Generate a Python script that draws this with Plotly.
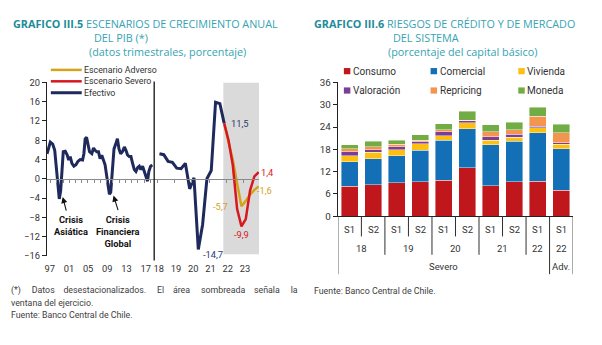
import plotly.graph_objects as go

W, H = 602, 345
FONT = "Roboto"
TFONT = "Open Sans"
TXT = "#333333"

# ---------------- GRAFICO III.5 data ----------------
# Efectivo 1997-2017 (decimal position on the compressed axis, annual growth %)
hist_t = [1996.44, 1997.12, 1997.62, 1998.04, 1998.51, 1998.72, 1998.99, 1999.28, 1999.55, 1999.82,
          2000.24, 2000.65, 2000.94, 2001.27, 2001.63, 2002.04, 2002.46, 2002.87, 2003.35, 2003.85,
          2004.12, 2004.39, 2004.68, 2004.95, 2005.30, 2005.78, 2006.13, 2006.46, 2006.81, 2007.17,
          2007.50, 2007.85, 2008.20, 2008.54, 2008.89, 2009.24, 2009.45, 2009.72, 2010.07, 2010.40,
          2010.76, 2011.11, 2011.44, 2011.79, 2012.21, 2012.56, 2012.89, 2013.24, 2013.60, 2013.93,
          2014.28, 2014.63, 2014.97, 2015.32, 2015.67, 2016.00, 2016.36, 2016.71, 2017.04, 2017.39,
          2017.66, 2018.02, 2018.37]
hist_v = [5.2, 7.6, 7.2, 5.9, 0.9, -1.8, -4.2, -2.5, 2.9, 5.6,
          5.7, 4.9, 3.9, 4.6, 3.2, 2.6, 2.9, 3.6, 4.0, 3.9,
          5.2, 8.3, 8.6, 6.9, 5.6, 5.2, 6.4, 5.9, 5.6, 5.6,
          4.2, 4.9, 3.9, 2.9, 0.5, -2.1, -3.2, -2.8, 1.5, 6.2,
          7.2, 8.3, 6.2, 5.2, 5.7, 6.6, 5.9, 4.9, 4.6, 4.6,
          3.2, 1.9, 1.5, 2.3, 2.6, 1.9, 2.6, 1.5, 0.2, -0.5,
          1.5, 2.6, 2.9]

# Efectivo 2018T1-2021T4
efectivo_q = ["2018T1", "2018T2", "2018T3", "2018T4", "2019T1", "2019T2", "2019T3", "2019T4",
              "2020T1", "2020T2", "2020T3", "2020T4", "2021T1", "2021T2", "2021T3", "2021T4"]
efectivo = [5.2, 5.0, 3.6, 3.4, 2.2, 2.1, 3.2, -2.1, 0.2, -14.7, -9.5, 0.0, 1.7, 15.9, 15.6, 11.5]

# Escenarios 2021T4-2023T4
escenario_q = ["2021T4", "2022T1", "2022T2", "2022T3", "2022T4", "2023T1", "2023T2", "2023T3", "2023T4"]
severo = [11.5, 8.0, 2.8, -6.3, -9.9, -8.4, -2.4, 0.5, 1.4]
adverso = [11.5, 8.0, 3.9, -1.0, -5.7, -4.6, -3.3, -2.3, -1.6]

hist_years = [1997, 2001, 2005, 2009, 2013, 2017]
hist_labels = ["97", "01", "05", "09", "13", "17"]
rec_years = [2018, 2019, 2020, 2021, 2022, 2023]
rec_labels = ["18", "19", "20", "21", "22", "23"]
y_ticks = [-16, -12, -8, -4, 0, 4, 8, 12, 16, 20]

# ---------------- GRAFICO III.6 data ----------------
periodos = ["S1", "S2", "S1", "S2", "S1", "S2", "S1", "S2", "S1", "S1"]
anios = ["18", "18", "19", "19", "20", "20", "21", "21", "22", "22"]
escenarios = ["Severo"] * 9 + ["Adv."]
consumo = [8.1, 8.4, 9.0, 9.3, 9.7, 13.0, 8.2, 9.2, 9.4, 7.0]
comercial = [6.6, 7.1, 7.2, 8.4, 10.7, 10.5, 11.0, 10.9, 13.1, 11.1]
vivienda = [1.5, 1.7, 1.7, 1.8, 1.3, 1.6, 1.2, 1.2, 1.3, 1.3]
valoracion = [1.1, 0.7, 0.8, 0.5, 1.0, 0.6, 1.0, 0.7, 0.4, 0.3]
repricing = [0.9, 0.8, 0.7, 0.5, 0.5, 0.1, 1.3, 1.3, 2.7, 2.8]
moneda = [1.0, 1.4, 1.0, 1.4, 1.7, 2.4, 1.9, 2.0, 2.4, 2.3]
bar_series = [("Consumo", consumo, "#C0171D"), ("Comercial", comercial, "#1370B6"),
              ("Vivienda", vivienda, "#FDBF12"), ("Valoración", valoracion, "#7A3E97"),
              ("Repricing", repricing, "#F3954F"), ("Moneda", moneda, "#71AC45")]
bar_ticks = [0, 6, 12, 18, 24, 30, 36]

NAVY, RED, GOLD = "#1F2A5C", "#D7181E", "#D4A21B"


def qmid(label):
    y, q = label.split("T")
    return int(y) + (int(q) - 0.5) / 4


def fx(p):
    return p / W


def fy(p):
    return 1 - p / H


def fmt(v):
    return f"{v:.1f}".replace(".", ",")


# geometry in pixels
L_TOP, L_BOT = 79, 258
L_X0, L_XM, L_X1 = 45, 152.7, 258
R_TOP, R_BOT = 79, 217
R_X0, R_X1 = 337, 573
R1 = [1996.40, 2018.78]
R2 = [2017.82, 2023.9]
YR = [-16, 20]
zero_pos = fy(L_BOT) + (0 - YR[0]) / (YR[1] - YR[0]) * (fy(L_TOP) - fy(L_BOT))

fig = go.Figure()

# left chart lines
fig.add_trace(go.Scatter(x=hist_t, y=hist_v, xaxis="x", yaxis="y", mode="lines",
                         line=dict(color=NAVY, width=3), name="Efectivo"))
fig.add_trace(go.Scatter(x=[qmid(q) for q in efectivo_q], y=efectivo, xaxis="x2", yaxis="y",
                         mode="lines", line=dict(color=NAVY, width=3), name="Efectivo"))
esc_t = [qmid(q) for q in escenario_q]
fig.add_trace(go.Scatter(x=esc_t, y=adverso, xaxis="x2", yaxis="y", mode="lines",
                         line=dict(color=GOLD, width=2.5), name="Escenario Adverso"))
fig.add_trace(go.Scatter(x=esc_t, y=severo, xaxis="x2", yaxis="y", mode="lines",
                         line=dict(color=RED, width=2.5), name="Escenario Severo"))
# dummy traces for label axes
for xa in ("x3", "x4"):
    fig.add_trace(go.Scatter(x=[None], y=[None], xaxis=xa, yaxis="y", hoverinfo="skip"))

# right chart bars
idx = list(range(len(periodos)))
for name, vals, col in bar_series:
    fig.add_trace(go.Bar(x=idx, y=vals, name=name, xaxis="x5", yaxis="y2",
                         marker=dict(color=col, line=dict(color="rgba(255,255,255,0.7)", width=0.6))))

shapes = []
ann = []

# shaded window
shapes.append(dict(type="rect", xref="x2", yref="y", x0=qmid("2021T4") - 0.05, x1=R2[1],
                   y0=YR[0] + 0.3, y1=YR[1], fillcolor="#DADADA", line=dict(width=0), layer="below"))
# separator between the two time spans
shapes.append(dict(type="line", xref="paper", yref="paper", x0=fx(L_XM), x1=fx(L_XM),
                   y0=fy(263), y1=fy(78), line=dict(color="#111111", width=1.3)))

# left legend
leg_left = [("Escenario Adverso", GOLD, 2.5), ("Escenario Severo", RED, 2.5), ("Efectivo", NAVY, 3)]
for i, (name, col, w) in enumerate(leg_left):
    yy = 66 + i * 11.8
    shapes.append(dict(type="line", xref="paper", yref="paper", x0=fx(49), x1=fx(80),
                       y0=fy(yy), y1=fy(yy), line=dict(color=col, width=w)))
    ann.append(dict(xref="paper", yref="paper", x=fx(80.5), y=fy(yy), xanchor="left", yanchor="middle",
                    text=name, showarrow=False, font=dict(size=8.8, color=TXT, family=FONT)))

# right legend
for i, (name, vals, col) in enumerate(bar_series):
    cx = [343, 430, 518][i % 3]
    cy = [67.3, 87.3][i // 3]
    shapes.append(dict(type="rect", xref="paper", yref="paper", x0=fx(cx), x1=fx(cx + 6.5),
                       y0=fy(cy + 3.2), y1=fy(cy - 3.2), fillcolor=col, line=dict(width=0)))
    ann.append(dict(xref="paper", yref="paper", x=fx(cx + 7.2), y=fy(cy), xanchor="left",
                    yanchor="middle", text=name, showarrow=False,
                    font=dict(size=10, color=TXT, family=FONT)))

# value labels
lab_font = dict(size=9.3, family=FONT)
t_last = qmid(efectivo_q[-1])
ann.append(dict(xref="x2", yref="y", x=t_last, y=efectivo[-1], text=fmt(efectivo[-1]), showarrow=False,
                xanchor="left", yanchor="middle", xshift=5, font=dict(color="#2E3B6B", **lab_font)))
imin = efectivo.index(min(efectivo))
ann.append(dict(xref="x2", yref="y", x=qmid(efectivo_q[imin]), y=efectivo[imin], text=fmt(efectivo[imin]),
                showarrow=False, xanchor="left", yanchor="middle", xshift=3, yshift=-5,
                font=dict(color="#2E3B6B", **lab_font)))
ia = adverso.index(min(adverso))
ann.append(dict(xref="x2", yref="y", x=esc_t[ia], y=adverso[ia], text=fmt(adverso[ia]), showarrow=False,
                xanchor="right", yanchor="middle", xshift=-11, font=dict(color=GOLD, **lab_font)))
isv = severo.index(min(severo))
ann.append(dict(xref="x2", yref="y", x=esc_t[isv], y=severo[isv], text=fmt(severo[isv]), showarrow=False,
                xanchor="center", yanchor="top", yshift=-1, font=dict(color=RED, **lab_font)))
ann.append(dict(xref="x2", yref="y", x=esc_t[-1], y=severo[-1], text=fmt(severo[-1]), showarrow=False,
                xanchor="left", yanchor="middle", xshift=0, font=dict(color=RED, **lab_font)))
ann.append(dict(xref="x2", yref="y", x=esc_t[-1], y=adverso[-1], text=fmt(adverso[-1]), showarrow=False,
                xanchor="left", yanchor="middle", xshift=-4, yshift=-4, font=dict(color=GOLD, **lab_font)))

# crisis annotations (text position, arrow tip, arrow tail offset in px)
crisis = [("Crisis<br>Asiática", 2001.5, 1999.7, -3.8, 4, 15),
          ("Crisis<br>Financiera<br>Global", 2011.3, 2010.3, -3.5, 5, 16)]
for text, tx, ax_t, ay_v, dx, dy in crisis:
    ann.append(dict(xref="x", yref="y", x=tx, y=-7.0, text=f"<b>{text}</b>", showarrow=False,
                    xanchor="center", yanchor="top", font=dict(size=9.3, color="#111111", family=FONT)))
    ann.append(dict(xref="x", yref="y", x=ax_t, y=ay_v, text="", showarrow=True, ax=dx, ay=dy,
                    arrowhead=2, arrowsize=1.1, arrowwidth=1.1, arrowcolor="#111111"))

# right chart category labels and dividers
n = len(periodos)
ROW1, ROW2, ROW3 = 231, 250, 269
for i in range(n):
    ann.append(dict(xref="x5", yref="paper", x=i, y=fy(ROW1), text=periodos[i], showarrow=False,
                    xanchor="center", yanchor="middle", font=dict(size=9.5, color=TXT, family=FONT)))


def groups(keys):
    out = []
    start = 0
    for i in range(1, len(keys) + 1):
        if i == len(keys) or keys[i] != keys[start]:
            out.append((start, i - 1, keys[start]))
            start = i
    return out


for s, e, k in groups(list(zip(escenarios, anios))):
    ann.append(dict(xref="x5", yref="paper", x=(s + e) / 2, y=fy(ROW2), text=k[1], showarrow=False,
                    xanchor="center", yanchor="middle", font=dict(size=9.5, color=TXT, family=FONT)))
for s, e, k in groups(escenarios):
    ann.append(dict(xref="x5", yref="paper", x=(s + e) / 2, y=fy(ROW3), text=k, showarrow=False,
                    xanchor="center", yanchor="middle", font=dict(size=9.5, color=TXT, family=FONT)))

div_col = "#303030"
for b in range(-1, n):
    xb = b + 0.5
    if b == -1 or b == n - 1 or escenarios[b] != escenarios[b + 1]:
        ybot = 277
    elif anios[b] != anios[b + 1]:
        ybot = 257
    else:
        ybot = 238
    shapes.append(dict(type="line", xref="x5", yref="paper", x0=xb, x1=xb, y0=fy(R_BOT), y1=fy(ybot),
                       line=dict(color=div_col, width=1)))

# titles
TEAL_B, TEAL = "#1E8B99", "#35A3B3"
tfont = dict(size=10.8, family=TFONT, color=TEAL)
ann += [
    dict(xref="paper", yref="paper", x=fx(9), y=fy(18), xanchor="left", yanchor="middle", showarrow=False,
         text=f"<b><span style='color:{TEAL_B}'>GRAFICO III.5</span></b> ESCENARIOS DE CRECIMIENTO ANUAL",
         font=tfont),
    dict(xref="paper", yref="paper", x=fx(90), y=fy(33), xanchor="left", yanchor="middle", showarrow=False,
         text="DEL PIB (*)", font=tfont),
    dict(xref="paper", yref="paper", x=fx(85), y=fy(47.5), xanchor="left", yanchor="middle", showarrow=False,
         text="(datos trimestrales, porcentaje)", font=tfont),
    dict(xref="paper", yref="paper", x=fx(311), y=fy(18), xanchor="left", yanchor="middle", showarrow=False,
         text=f"<b><span style='color:{TEAL_B}'>GRAFICO III.6</span></b> RIESGOS DE CRÉDITO Y DE MERCADO",
         font=tfont),
    dict(xref="paper", yref="paper", x=fx(390), y=fy(33), xanchor="left", yanchor="middle", showarrow=False,
         text="DEL SISTEMA", font=tfont),
    dict(xref="paper", yref="paper", x=fx(385), y=fy(47.5), xanchor="left", yanchor="middle", showarrow=False,
         text="(porcentaje del capital básico)", font=tfont),
]

# footnotes
nfont = dict(size=8.8, family=FONT, color="#404040")
words1 = ["(*)", "Datos", "desestacionalizados.", "El", "área", "sombreada", "señala", "la"]
line1 = words1[0]
for k, w in enumerate(words1[1:]):
    line1 += " " + "\u00a0" * (4 if k % 2 == 0 else 3) + w
notes = [(7, 294, line1),
         (7, 306.5, "ventana del ejercicio."),
         (7, 319, "Fuente: Banco Central de Chile."),
         (311, 294, "Fuente: Banco Central de Chile.")]
for x0, y0, t in notes:
    ann.append(dict(xref="paper", yref="paper", x=fx(x0), y=fy(y0), xanchor="left", yanchor="middle",
                    showarrow=False, text=t, font=nfont))

tickfont = dict(size=9.3, color=TXT, family=FONT)
fig.update_layout(
    width=W, height=H, margin=dict(l=0, r=0, t=0, b=0),
    paper_bgcolor="white", plot_bgcolor="rgba(0,0,0,0)",
    showlegend=False, barmode="stack", bargap=0.28,
    font=dict(family=FONT, size=9.3, color=TXT),
    xaxis=dict(domain=[fx(L_X0), fx(L_XM)], range=R1, anchor="free", position=zero_pos,
               showline=True, linecolor="#8A8A8A", linewidth=1.2, ticks="outside", ticklen=3,
               tickcolor="#8A8A8A", tick0=1997.17, dtick=1.3, showticklabels=False,
               showgrid=False, zeroline=False, fixedrange=True),
    xaxis2=dict(domain=[fx(L_XM), fx(L_X1)], range=R2, anchor="free", position=zero_pos,
                showline=True, linecolor="#8A8A8A", linewidth=1.2, ticks="outside", ticklen=3,
                tickcolor="#8A8A8A", tickvals=rec_years, showticklabels=False,
                showgrid=False, zeroline=False, fixedrange=True),
    xaxis3=dict(overlaying="x", domain=[fx(L_X0), fx(L_XM)], range=R1, anchor="y",
                tickvals=hist_years, ticktext=hist_labels, ticks="outside", ticklen=4,
                tickcolor="rgba(0,0,0,0)", showline=False, showgrid=False, zeroline=False,
                tickfont=tickfont, fixedrange=True),
    xaxis4=dict(overlaying="x2", domain=[fx(L_XM), fx(L_X1)], range=R2, anchor="y",
                tickvals=[y + 0.08 for y in rec_years], ticktext=rec_labels, ticks="outside", ticklen=4,
                tickcolor="rgba(0,0,0,0)", showline=False, showgrid=False, zeroline=False,
                tickfont=tickfont, fixedrange=True),
    yaxis=dict(domain=[fy(L_BOT), fy(L_TOP)], range=YR, anchor="x", tickvals=y_ticks,
               showline=True, linecolor="#222222", linewidth=1.2, ticks="outside", ticklen=4,
               tickcolor="#222222", showgrid=False, zeroline=False, tickfont=tickfont, fixedrange=True),
    xaxis5=dict(domain=[fx(R_X0), fx(R_X1)], range=[-0.5, n - 0.5], anchor="y2",
                showline=True, linecolor="#222222", linewidth=1.2, ticks="", showticklabels=False,
                showgrid=False, zeroline=False, fixedrange=True),
    yaxis2=dict(domain=[fy(R_BOT), fy(R_TOP)], range=[0, 36], anchor="x5", tickvals=bar_ticks,
                showline=True, linecolor="#222222", linewidth=1.2, ticks="outside", ticklen=4,
                tickcolor="#222222", showgrid=False, zeroline=False,
                tickfont=dict(size=9.8, color=TXT, family=FONT), fixedrange=True),
    shapes=shapes, annotations=ann,
)

fig.write_html("out.html", config={"displayModeBar": False})
